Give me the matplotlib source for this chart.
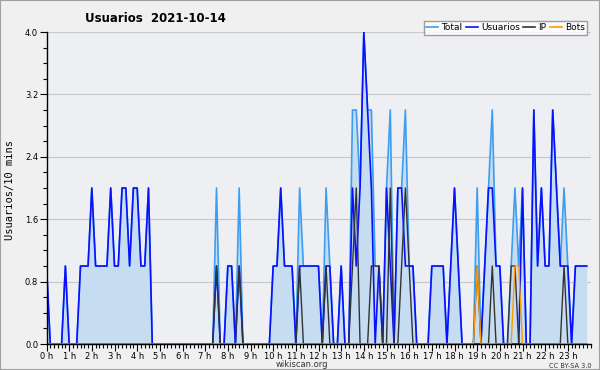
import numpy as np
import matplotlib
matplotlib.use('Agg')
import matplotlib.pyplot as plt
from matplotlib.lines import Line2D
from matplotlib.patches import Rectangle
from matplotlib.ticker import MultipleLocator

# one value per 10 minutes, 6 per hour, hour 0 .. 23
usuarios = [
    1, 0, 0, 0, 0, 1,   0, 0, 0, 1, 1, 1,   2, 1, 1, 1, 1, 2,   1, 1, 2, 2, 1, 2,
    2, 1, 1, 2, 0, 0,   0, 0, 0, 0, 0, 0,   0, 0, 0, 0, 0, 0,   0, 0, 0, 1, 0, 0,
    1, 1, 0, 1, 0, 0,   0, 0, 0, 0, 0, 0,   1, 1, 2, 1, 1, 1,   0, 1, 1, 1, 1, 1,
    1, 0, 1, 1, 0, 0,   1, 0, 0, 2, 1, 2,   4, 3, 2, 0, 1, 0,   2, 1, 0, 2, 2, 1,
    1, 1, 0, 0, 0, 0,   1, 1, 1, 1, 0, 1,   2, 1, 0, 0, 0, 0,   0, 0, 1, 2, 2, 1,
    1, 0, 0, 0, 0, 0,   2, 0, 0, 3, 1, 2,   1, 1, 3, 2, 1, 1,   1, 0, 1, 1, 1, 1,
]
ip = [
    0, 0, 0, 0, 0, 0,   0, 0, 0, 0, 0, 0,   0, 0, 0, 0, 0, 0,   0, 0, 0, 0, 0, 0,
    0, 0, 0, 0, 0, 0,   0, 0, 0, 0, 0, 0,   0, 0, 0, 0, 0, 0,   0, 0, 0, 1, 0, 0,
    0, 0, 0, 1, 0, 0,   0, 0, 0, 0, 0, 0,   0, 0, 0, 0, 0, 0,   0, 1, 0, 0, 0, 0,
    0, 0, 1, 0, 0, 0,   0, 0, 0, 1, 2, 0,   0, 0, 1, 1, 1, 0,   0, 2, 0, 0, 1, 2,
    1, 0, 0, 0, 0, 0,   0, 0, 0, 0, 0, 0,   0, 0, 0, 0, 0, 0,   1, 0, 0, 0, 1, 0,
    0, 0, 0, 1, 1, 0,   0, 0, 0, 0, 0, 0,   0, 0, 0, 0, 0, 1,   0, 0, 0, 0, 0, 0,
]
bots = [
    0, 0, 0, 0, 0, 0,   0, 0, 0, 0, 0, 0,   0, 0, 0, 0, 0, 0,   0, 0, 0, 0, 0, 0,
    0, 0, 0, 0, 0, 0,   0, 0, 0, 0, 0, 0,   0, 0, 0, 0, 0, 0,   0, 0, 0, 0, 0, 0,
    0, 0, 0, 0, 0, 0,   0, 0, 0, 0, 0, 0,   0, 0, 0, 0, 0, 0,   0, 0, 0, 0, 0, 0,
    0, 0, 0, 0, 0, 0,   0, 0, 0, 0, 0, 0,   0, 0, 0, 0, 0, 0,   0, 0, 0, 0, 0, 0,
    0, 0, 0, 0, 0, 0,   0, 0, 0, 0, 0, 0,   0, 0, 0, 0, 0, 0,   1, 0, 0, 0, 0, 0,
    0, 0, 0, 0, 1, 1,   0, 0, 0, 0, 0, 0,   0, 0, 0, 0, 0, 0,   0, 0, 0, 0, 0, 0,
]
total = [
    1, 0, 0, 0, 0, 1,   0, 0, 0, 1, 1, 1,   2, 1, 1, 1, 1, 2,   1, 1, 2, 2, 1, 2,
    2, 1, 1, 2, 0, 0,   0, 0, 0, 0, 0, 0,   0, 0, 0, 0, 0, 0,   0, 0, 0, 2, 0, 0,
    1, 1, 0, 2, 0, 0,   0, 0, 0, 0, 0, 0,   1, 1, 2, 1, 1, 1,   0, 2, 1, 1, 1, 1,
    1, 0, 2, 1, 0, 0,   1, 0, 0, 3, 3, 2,   4, 3, 3, 1, 1, 0,   2, 3, 0, 2, 2, 3,
    1, 1, 0, 0, 0, 0,   1, 1, 1, 1, 0, 1,   2, 1, 0, 0, 0, 0,   2, 0, 1, 2, 3, 1,
    1, 0, 0, 1, 2, 1,   2, 0, 0, 3, 1, 2,   1, 1, 3, 2, 1, 2,   1, 0, 1, 1, 1, 1,
]
hour_labels = ['%d h' % h for h in range(24)]

c_total = '#3d9df0'
c_usu = '#0a10ff'
c_ip = '#333333'
c_bots = '#ff9900'
c_fill = '#c6ddf1'

x = np.arange(len(total))

fig = plt.figure(figsize=(6, 3.7), dpi=100, facecolor='#f0f0f0')
ax = fig.add_axes([46.5 / 600, 26 / 370, 544 / 600, 312 / 370])
ax.set_facecolor('#eeeff2')

ax.fill_between(x, total, 0, color=c_fill, lw=0)
ax.plot(x, total, color=c_total, lw=1.2)
ax.plot(x, usuarios, color=c_usu, lw=1.2)
ax.plot(x, ip, color=c_ip, lw=1.0)
ax.plot(x, bots, color=c_bots, lw=1.0)

ax.set_xlim(0, 144)
ax.set_ylim(0, 4)
ax.set_xticks(np.arange(0, 144, 6))
ax.set_xticklabels(hour_labels)
ax.xaxis.set_minor_locator(MultipleLocator(1))
ax.set_yticks(np.arange(0, 4.01, 0.8))
ax.set_yticklabels(['%.1f' % v for v in np.arange(0, 4.01, 0.8)])
ax.yaxis.set_minor_locator(MultipleLocator(0.2))
ax.tick_params(axis='both', which='major', labelsize=6, length=5, width=0.8,
               pad=1, direction='out', colors='black')
ax.tick_params(axis='x', which='major', pad=0.5)
ax.tick_params(axis='both', which='minor', length=3, width=0.8, direction='out')
ax.grid(axis='y', color='#c8c8c8', lw=0.8)
ax.set_axisbelow(True)
for s in ['top', 'right']:
    ax.spines[s].set_visible(False)
for s in ['left', 'bottom']:
    ax.spines[s].set_linewidth(1.0)
    ax.spines[s].set_zorder(5)

fig.text(85 / 600, 1 - 18 / 370, 'Usuarios  2021-10-14', fontsize=8.5,
         fontweight='bold', va='center', ha='left')
fig.text(10 / 600, 1 - 190 / 370, 'Usuarios/10 mins', rotation=90, fontsize=7.5,
         family='DejaVu Sans Mono', va='center', ha='center')
fig.text(302 / 600, 1 - 364.5 / 370, 'wikiscan.org', fontsize=6, ha='center', va='center',
         color='#333333')
fig.text(592 / 600, 1 - 365.5 / 370, 'CC BY-SA 3.0', fontsize=4.8, ha='right', va='center',
         color='#333333')

handles = [Line2D([], [], color=c, lw=1.2) for c in [c_total, c_usu, c_ip, c_bots]]
leg = fig.legend(handles, ['Total', 'Usuarios', 'IP', 'Bots'], loc='upper right',
                 bbox_to_anchor=(592 / 600, 1 - 16 / 370), ncol=4, fontsize=6.5,
                 handlelength=1.3, handletextpad=0.35, columnspacing=0.4,
                 borderpad=0.3, frameon=True, fancybox=False, shadow=False)
leg.get_frame().set_edgecolor('#888888')
leg.get_frame().set_linewidth(1.0)
leg.get_frame().set_facecolor('white')

fig.patches.append(Rectangle((0, 0), 1, 1, transform=fig.transFigure, fill=False,
                             edgecolor='#a0a0a0', lw=1.5))

fig.savefig('out.png', dpi=100, facecolor=fig.get_facecolor())
